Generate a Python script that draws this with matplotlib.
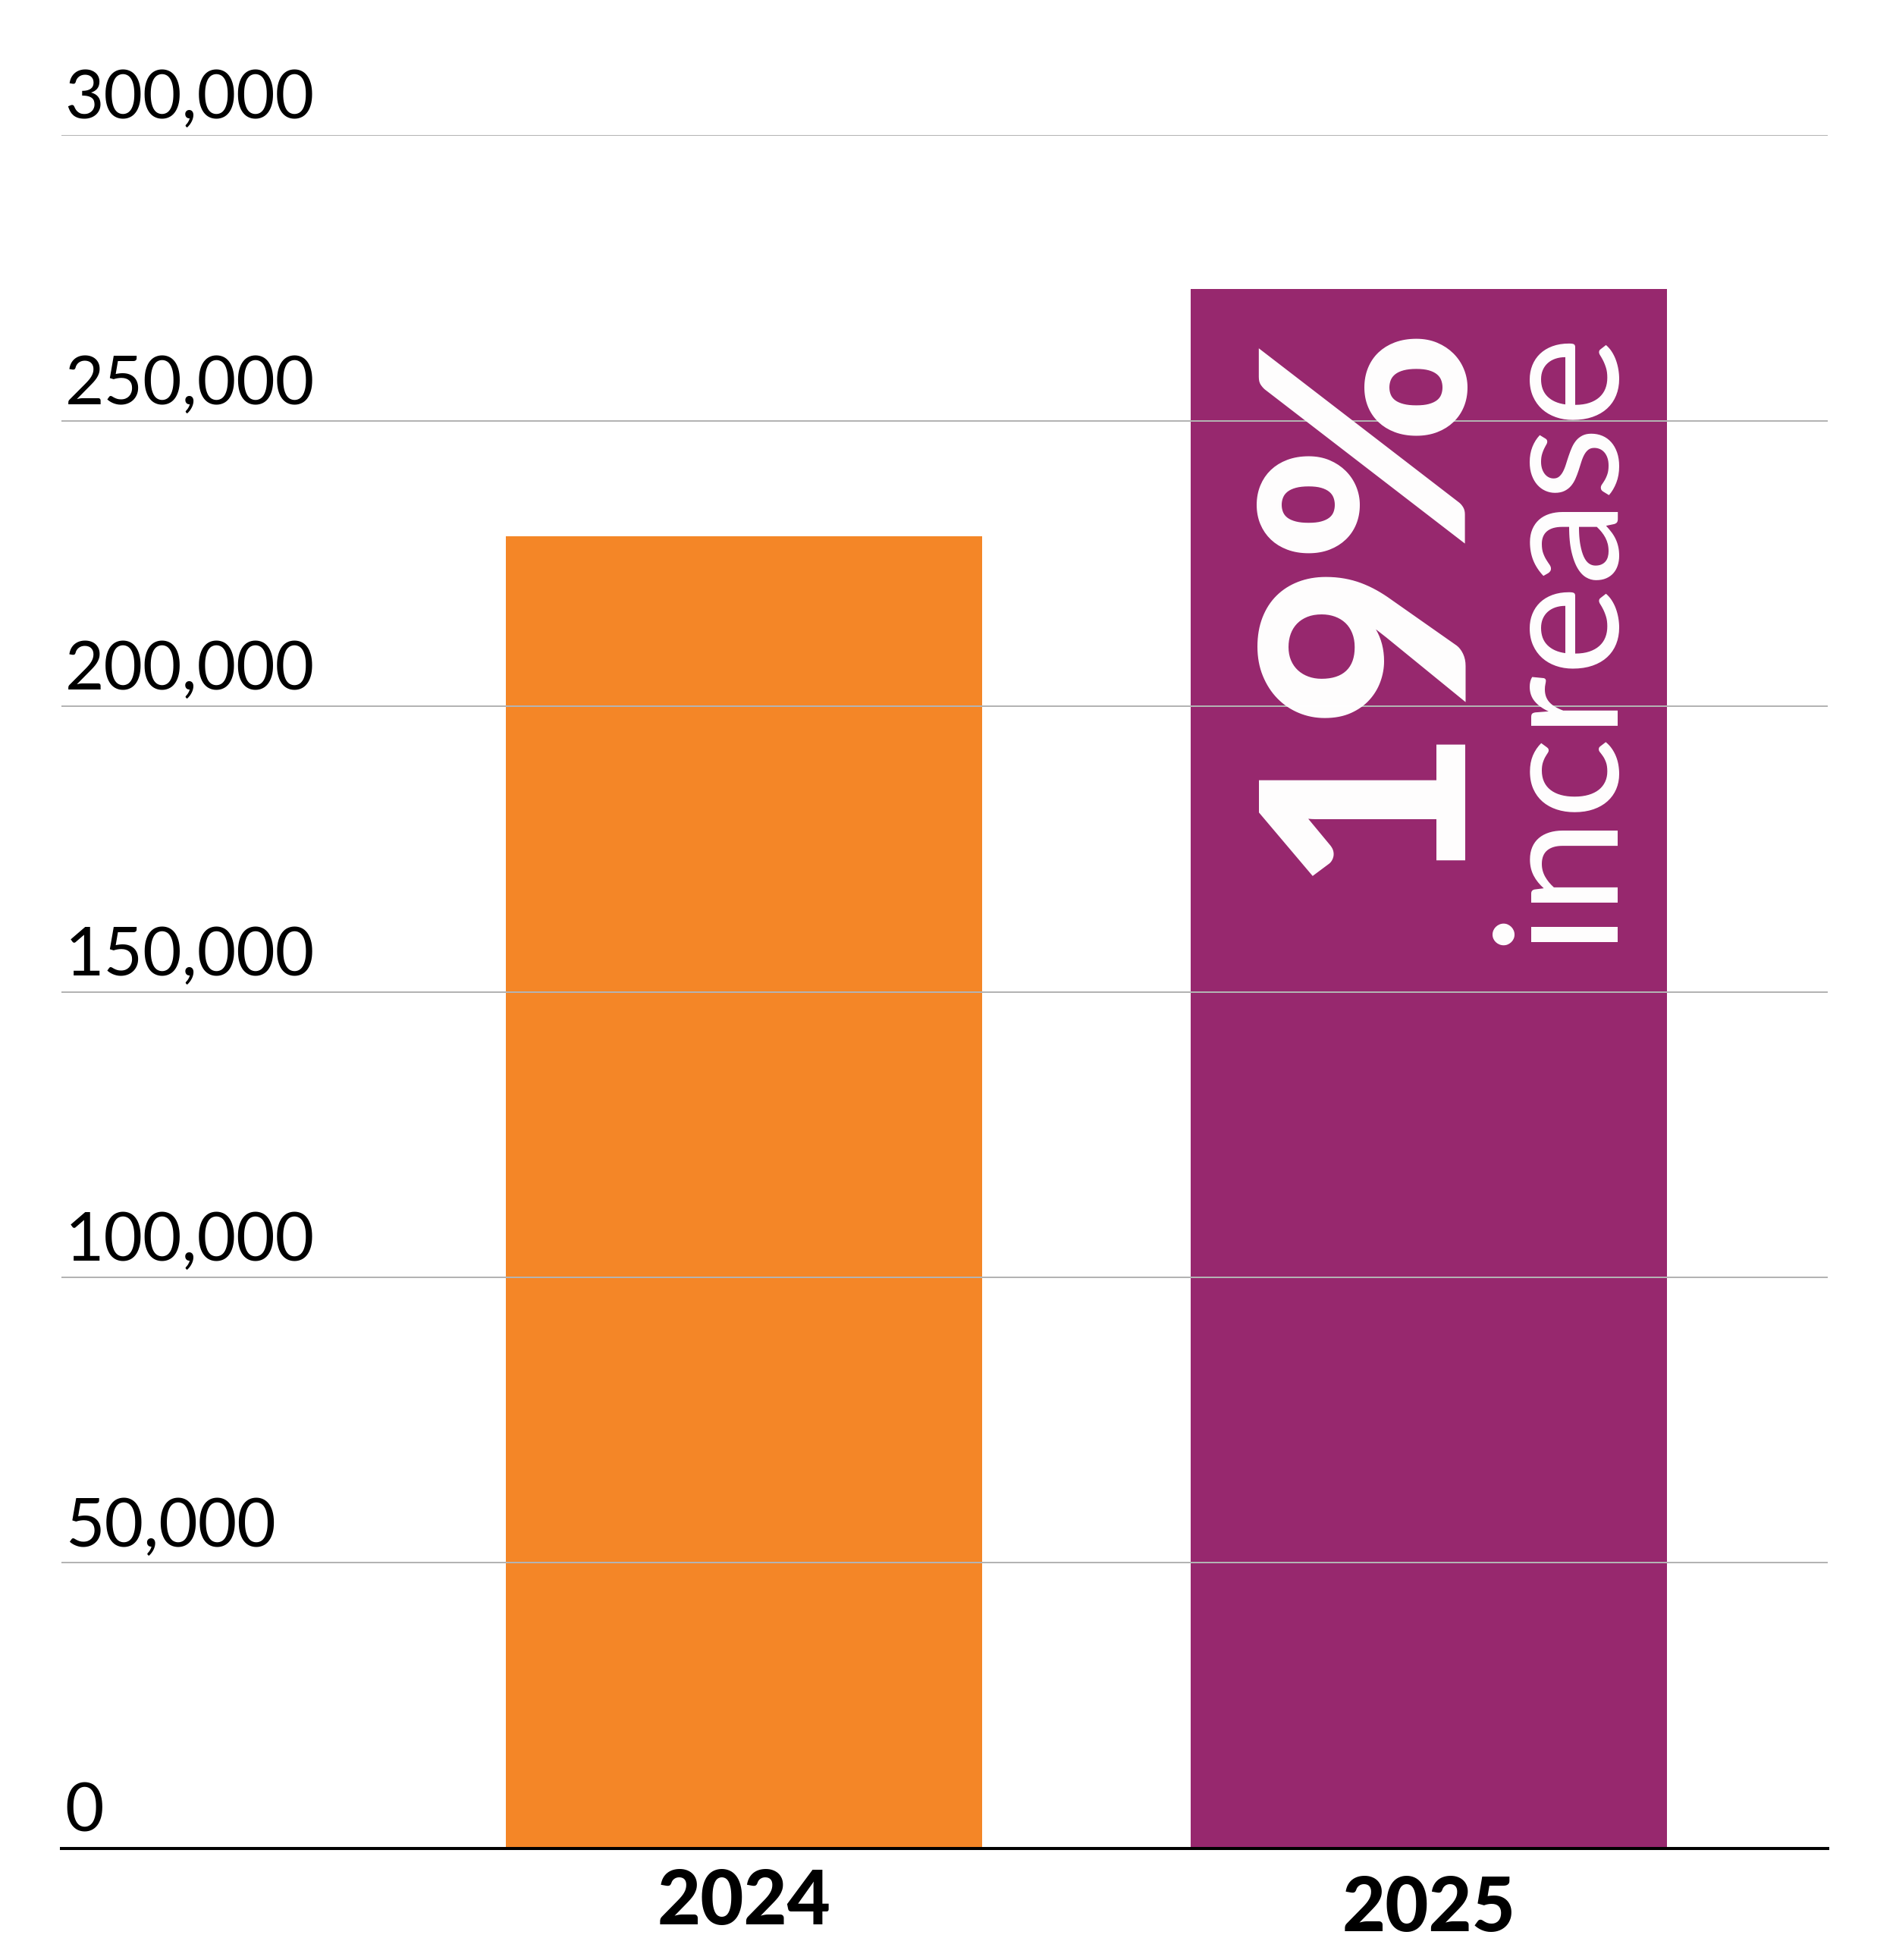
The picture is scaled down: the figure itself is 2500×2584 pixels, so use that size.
import matplotlib
matplotlib.use("Agg")
import matplotlib.pyplot as plt
import matplotlib.transforms as mtransforms

years = ["2024", "2025"]
values = [229700, 273000]
colors = ["#F48627", "#97286E"]
yticks = [0, 50000, 100000, 150000, 200000, 250000, 300000]
tick_labels = ["0", "50,000", "100,000", "150,000", "200,000", "250,000", "300,000"]
callout_big = "19%"
callout_small = "increase"

DPI = 100
fig = plt.figure(figsize=(25, 25.84), dpi=DPI)
ax = fig.add_axes([0.0324, 0.0569, 0.964 - 0.0324, 0.9311 - 0.0569])

x = list(range(len(years)))
ax.bar(x, values, width=0.695, color=colors, zorder=1)

ax.set_xlim(-0.997, 1.5825)
ax.set_ylim(0, 300000)
ax.set_yticks(yticks)
ax.yaxis.grid(True, color="#b3b3b3", linewidth=1.44)
ax.set_axisbelow(False)
ax.tick_params(length=0, labelleft=False, labelbottom=False)
for s in ["top", "right", "left"]:
    ax.spines[s].set_visible(False)
ax.spines["bottom"].set_linewidth(2.9)
ax.spines["bottom"].set_color("black")
ax.spines["bottom"].set_zorder(3)

# y labels sit just above their gridlines, flush left
lab_tr = mtransforms.blended_transform_factory(ax.transAxes, ax.transData) + \
    mtransforms.ScaledTranslation(0, 22 / DPI, fig.dpi_scale_trans)
for v, lab in zip(yticks, tick_labels):
    ax.text(0.002, v, lab, transform=lab_tr, ha="left", va="baseline",
            fontsize=64, family="Lato", fontweight="normal", color="black")

# year labels (2025 sits a touch lower in the original)
year_drop_px = [100, 109]
for xi, yr, d in zip(x, years, year_drop_px):
    tr = mtransforms.blended_transform_factory(ax.transData, ax.transAxes) + \
        mtransforms.ScaledTranslation(0, -d / DPI, fig.dpi_scale_trans)
    ax.text(xi, 0, yr, transform=tr, ha="center", va="baseline",
            fontsize=71, family="Lato", fontweight="black", color="black")

# rotated callout inside the 2025 bar
ax.text(1.030, 269300, callout_big, rotation=90, rotation_mode="anchor",
        ha="right", va="baseline", fontsize=270, family="Lato",
        fontweight="black", color="white", zorder=4)
ax.text(1.2624, 266500, callout_small, rotation=90, rotation_mode="anchor",
        ha="right", va="baseline", fontsize=162, family="Lato",
        fontweight="normal", color="white", zorder=4)

fig.savefig("out.png", dpi=DPI)
